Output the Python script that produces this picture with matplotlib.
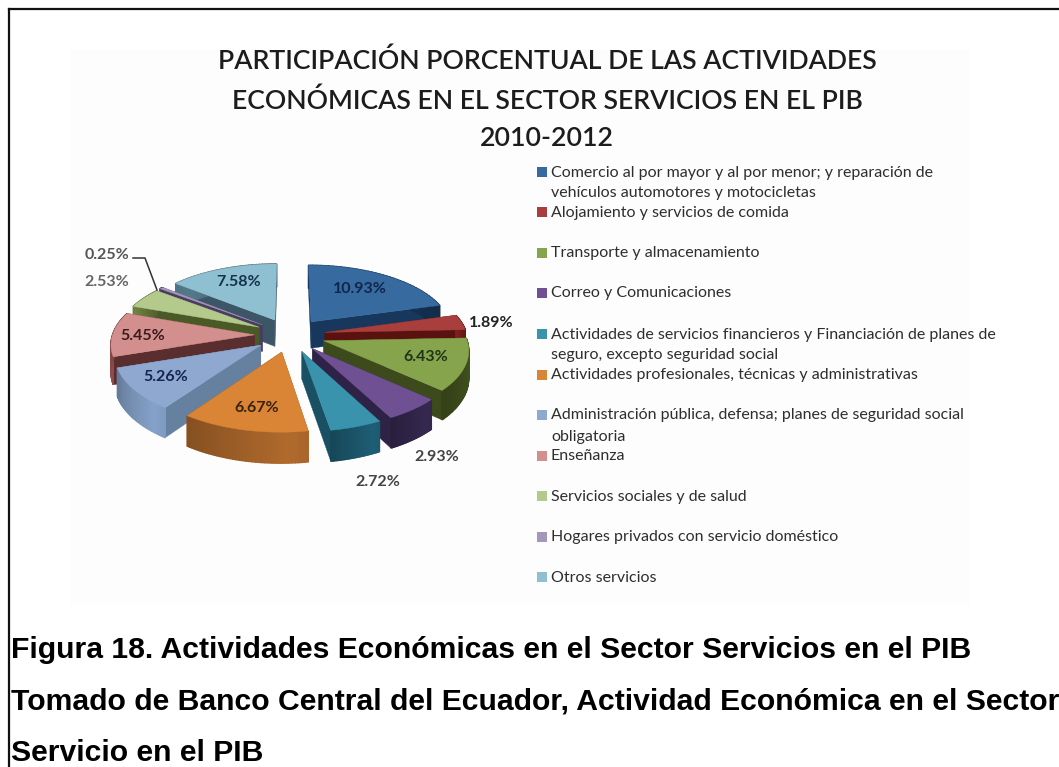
import numpy as np
import matplotlib
matplotlib.use("Agg")
import matplotlib.pyplot as plt
from matplotlib.patches import Polygon, Rectangle

W, H = 1059, 767

valores = [10.93, 1.89, 6.43, 2.93, 2.72, 6.67, 5.26, 5.45, 2.53, 0.25, 7.58]
etiquetas = ["10.93%", "1.89%", "6.43%", "2.93%", "2.72%", "6.67%", "5.26%",
             "5.45%", "2.53%", "0.25%", "7.58%"]
actividades = [
    "Comercio al por mayor y al por menor; y reparación de\nvehículos automotores y motocicletas",
    "Alojamiento y servicios de comida",
    "Transporte y almacenamiento",
    "Correo y Comunicaciones",
    "Actividades de servicios financieros y Financiación de planes de\nseguro, excepto seguridad social",
    "Actividades profesionales, técnicas y administrativas",
    "Administración pública, defensa; planes de seguridad social\nobligatoria",
    "Enseñanza",
    "Servicios sociales y de salud",
    "Hogares privados con servicio doméstico",
    "Otros servicios",
]
colores = ["#376a9e", "#a83f3c", "#86a44c", "#6f5193", "#3a93ac", "#da8436",
           "#8ea8cf", "#d38f8e", "#b4c98c", "#a596bb", "#8ec0d1"]
lados = ["#17375c", "#5a1210", "#3c4a1c", "#2e2346", "#1a5063", "#8a5224",
         "#66809f", "#5a2e2e", "#4a5a26", "#4a3c60", "#3c5668"]
externos = ["#17375c", "#7a1e1c", "#42521f", "#33274d", "#1d5a70", "#a8652a",
            "#7f9ac0", "#8c4a48", "#6a7d3c", "#54466c", "#4f7384"]

leyenda_y = [172, 212, 253, 293, 334, 375, 415, 456, 496, 537, 577]
etiqueta_xy = [(360, 289), (491, 323), (426, 357), (437, 457), (378, 482), (257, 408),
               (166, 377), (143, 336), (107, 282), (107, 255), (239, 282)]
etiqueta_color = ["#10264a", "#222222", "#22331a", "#444444", "#444444", "#3a2210",
                  "#16264a", "#3a1c1c", "#666666", "#555555", "#15304a"]

# geometria de la torta
CX, CY = 290, 335
RX, RY = 142, 68
PERSP = 0.12
EXPLOTA = 0.25
ALTO = 27
FUENTE = "Lato"


def proyectar(x, y, z=0.0):
    # perspectiva simple: lo que esta mas cerca se ve mas grande
    esc = 1 + PERSP * y
    return CX + RX * x * esc, CY + RY * y * esc + z * ALTO * esc


def punto(ang, r, dx, dy, z=0.0):
    return proyectar(dx + r * np.sin(ang), dy - r * np.cos(ang), z)


fig = plt.figure(figsize=(W / 100, H / 100), dpi=100)
ax = fig.add_axes([0, 0, 1, 1])
ax.set_xlim(0, W)
ax.set_ylim(H, 0)
ax.axis("off")

# marco de la pagina
ax.plot([8.5, 8.5], [H, 9], color="#111111", lw=1.6)
ax.plot([8.5, W], [9, 9], color="#111111", lw=1.6)

# fondo apenas gris de la imagen pegada
ax.add_patch(Rectangle((70, 50), 900, 555, fc="#fdfdfd", ec="none", zorder=0))

for y, txt in zip([61, 101, 139], ["PARTICIPACIÓN PORCENTUAL DE LAS ACTIVIDADES",
                                   "ECONÓMICAS EN EL SECTOR SERVICIOS EN EL PIB", "2010-2012"]):
    ax.text(547, y, txt, ha="center", va="center", fontsize=19.2, family=FUENTE, fontweight=600,
            color="#1c1c1c")

# porciones ordenadas de atras hacia adelante
acum = np.cumsum([0] + valores) / sum(valores) * 2 * np.pi
porciones = []
for i in range(len(valores)):
    a0, a1 = acum[i], acum[i + 1]
    med = (a0 + a1) / 2
    porciones.append((-np.cos(med), i, a0, a1, med))

for _, i, a0, a1, med in sorted(porciones):
    dx, dy = EXPLOTA * np.sin(med), -EXPLOTA * np.cos(med)
    arco = np.linspace(a0, a1, 40)
    z = 10 + (1 - np.cos(med)) * 5

    for a in [a0, a1]:
        cara = [punto(a, 0, dx, dy), punto(a, 1, dx, dy), punto(a, 1, dx, dy, 1), punto(a, 0, dx, dy, 1)]
        ax.add_patch(Polygon(cara, fc=lados[i], ec=lados[i], lw=0.3, zorder=z))

    # borde curvo en tiras para el degrade
    base = np.array(matplotlib.colors.to_rgb(externos[i]))
    for k in range(len(arco) - 1):
        t = k / max(len(arco) - 2, 1)
        tira = [punto(arco[k], 1, dx, dy), punto(arco[k + 1], 1, dx, dy),
                punto(arco[k + 1], 1, dx, dy, 1), punto(arco[k], 1, dx, dy, 1)]
        c = np.clip(base * (1.05 - 0.3 * abs(t - 0.15)), 0, 1)
        ax.add_patch(Polygon(tira, fc=c, ec=c, lw=1.0, zorder=z + 0.1))

    tapa = [punto(a0, 0, dx, dy)] + [punto(a, 1, dx, dy) for a in arco]
    ax.add_patch(Polygon(tapa, fc=colores[i], ec=colores[i], lw=0.3, zorder=z + 0.2))

for i, txt in enumerate(etiquetas):
    x, y = etiqueta_xy[i]
    ax.text(x, y, txt, ha="center", va="center", fontsize=11.5, fontweight="bold", family=FUENTE,
            color=etiqueta_color[i], zorder=40)

# linea guia de la porcion mas chica
ax.plot([133, 145, 157], [258, 258, 290], color="#333333", lw=1.1, zorder=40)

# leyenda
for i, txt in enumerate(actividades):
    y = leyenda_y[i]
    ax.add_patch(Rectangle((537, y - 5), 9.5, 9.5, fc=colores[i], ec="none"))
    for j, linea in enumerate(txt.split("\n")):
        ax.text(551, y + 0.5 + j * 21, linea, ha="left", va="center", fontsize=11.55,
                family=FUENTE, color="#2e2e2e")

# pie de figura
pie_fig = ["Figura 18. Actividades Económicas en el Sector Servicios en el PIB",
           "Tomado de Banco Central del Ecuador, Actividad Económica en el Sector",
           "Servicio en el PIB"]
for y, txt in zip([650, 702, 753], pie_fig):
    ax.text(11, y, txt, ha="left", va="center", fontsize=21.7, fontweight="bold",
            family="Liberation Sans", color="black")

fig.savefig("out.png", dpi=100)
